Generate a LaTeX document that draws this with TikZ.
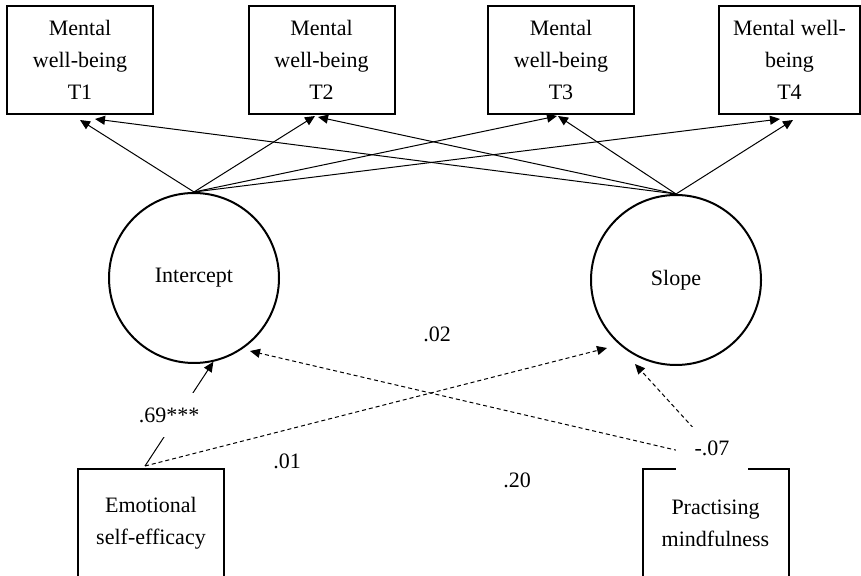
\documentclass[tikz,border=0pt]{standalone}
\usepackage{fontspec}
\setmainfont{Liberation Serif}
\usetikzlibrary{positioning,
				arrows.meta,
				calc}

\begin{document}
\begin{tikzpicture}[x=0.5pt, y=-0.5pt,
		font=\fontsize{11}{16}\selectfont,
		obs/.style={draw, line width=1pt, minimum width=73pt, minimum height=54pt, align=center, inner sep=0pt},
		lat/.style={draw, circle, line width=1pt, minimum size=85pt, inner sep=0pt},
		path/.style={line width=0.5pt, -{Triangle[length=5pt,width=4.5pt]}},
		ns/.style={path, dash pattern=on 2pt off 1.5pt},
		coef/.style={fill=white, inner sep=0pt}]
		\useasboundingbox (0,0) rectangle (861,576);
		\clip (0,0) rectangle (861,576);

		% measured variables
		\node[obs] (T1) at (80,60) {Mental\\well-being\\T1};
		\node[obs] (T2) at (321.5,60) {Mental\\well-being\\T2};
		\node[obs] (T3) at (561,60) {Mental\\well-being\\T3};
		\node[obs, minimum width=70.5pt] (T4) at (789.5,60) {Mental well-\\being\\T4};

		\node[lat] (Intercept) at (194,278) {Intercept};
		\node[lat] (Slope) at (676,280) {Slope};

		\node[obs] (ESE) at (151,523) {Emotional\\self-efficacy};
		\node[obs] (PM) at (715.5,523) {Practising\\mindfulness};

		% growth paths
		\draw[path] (Intercept.north) -- ($(T1.south)+(0,5)$);
		\draw[path] (Intercept.north) -- ($(T2.south)+(-6.5,1)$);
		\draw[path] (Intercept.north) -- ($(T3.south)+(-4,1)$);
		\draw[path] (Intercept.north) -- ($(T4.south)+(-9.5,4)$);
		\draw[path] (Slope.north) -- ($(T1.south)+(15,4)$);
		\draw[path] (Slope.north) -- ($(T2.south)+(-3.5,2)$);
		\draw[path] (Slope.north) -- ($(T3.south)+(-3,1)$);
		\draw[path] (Slope.north) -- ($(T4.south)+(3.5,5)$);

		% predictors
		\coordinate (esetop) at ($(ESE.north)+(-6,-2)$);
		\coordinate (pmsrc) at ($(PM.north)+(-3.5,-19.5)$);
		\draw[path] (esetop) -- (Intercept.-77);
		\draw[ns] (esetop) -- ($(Slope)+(-69,68)$);
		\draw[ns] ($(pmsrc)+(0,10)$) -- ($(Intercept)+(56,73)$);
		\draw[ns] (pmsrc) -- ($(Slope)+(-41,84)$);

		\node[coef, minimum height=22pt, inner xsep=3pt] (c69) at (169,415) {.69***};
		\node[coef, minimum width=36pt, minimum height=21.5pt] (c07) at (pmsrc) {-.07};
		\node (c02) at (437,334) {.02};
		\node (c01) at (287,461) {.01};
		\node (c20) at (517,480) {.20};
	\end{tikzpicture}
\end{document}
